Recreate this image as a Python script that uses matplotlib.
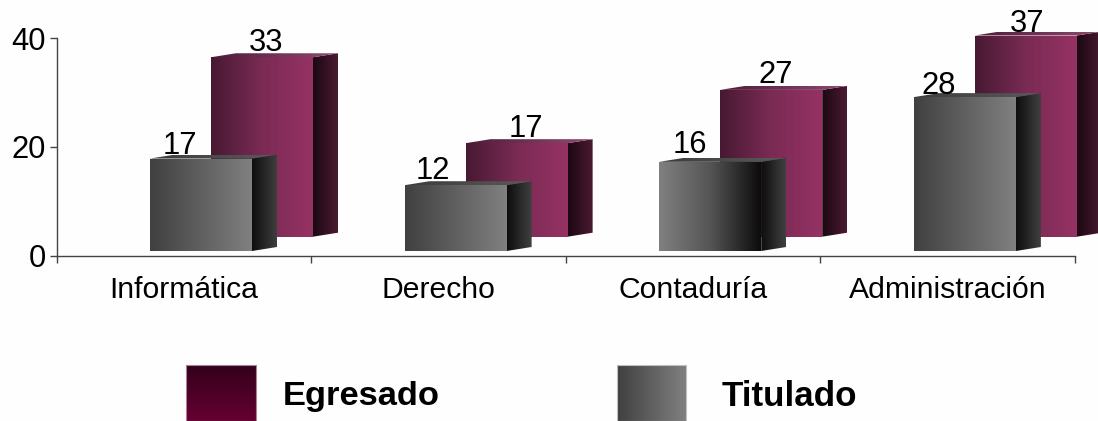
#!/usr/bin/env python3
import numpy as np
import matplotlib
matplotlib.use("Agg")
import matplotlib.pyplot as plt
from matplotlib.colors import LinearSegmentedColormap
from matplotlib.patches import Polygon

plt.rcParams["font.family"] = ["Liberation Sans", "DejaVu Sans"]

categories = ["Informática", "Derecho", "Contaduría", "Administración"]
egresado = [33, 17.2, 27, 37]
titulado = [17, 12.1, 16.4, 28.3]
y_ticks = [0, 20, 40]

# label nudges in pixels, from the left edge / top of each bar
egr_label_dx = [55, 60, 55, 52]
egr_label_dy = [6, 6, 7, 4]
tit_label_dx = [30, 28, 31, 25]
tit_label_dy = [5, 6, 9, 3]

W, H = 1098, 421
X0, X1 = 56.5, 1075
Y0, Y40 = 255.5, 38
PX = 4.0 / (X1 - X0)      # data units per pixel, x
PY = 40.0 / (Y0 - Y40)    # data units per pixel, y

BAR_W = 102 * PX
GRAY_LEFT, EGR_LEFT = 93.5 * PX, 154.5 * PX
GRAY_BASE, EGR_BASE = 4.5 * PY, 18.8 * PY
DX, DY = 25 * PX, 4 * PY

fig = plt.figure(figsize=(W / 100, H / 100), dpi=100, facecolor="#fefefe")
ax = fig.add_axes([X0 / W, 1 - Y0 / H, (X1 - X0) / W, (Y0 - Y40) / H])
ax.patch.set_alpha(0)


def gradient_poly(target, verts, colors, vertical=False, z=3):
    verts = np.array(verts)
    cmap = LinearSegmentedColormap.from_list("g", colors)
    grad = np.linspace(0, 1, 256)
    grad = grad.reshape(-1, 1) if vertical else grad.reshape(1, -1)
    ext = [verts[:, 0].min(), verts[:, 0].max(), verts[:, 1].min(), verts[:, 1].max()]
    im = target.imshow(grad, cmap=cmap, extent=ext, aspect="auto", origin="upper",
                       interpolation="bilinear", zorder=z)
    im.set_clip_box(fig.bbox)
    poly = Polygon(verts, closed=True, transform=target.transData)
    im.set_clip_path(poly)


def draw_bar(left, base, value, front, side, top, z):
    right = left + BAR_W
    high = base + value
    gradient_poly(ax, [(left, base), (right, base), (right, high), (left, high)], front, z=z)
    gradient_poly(ax, [(right, base), (right + DX, base + DY), (right + DX, high + DY), (right, high)],
                  side, z=z)
    gradient_poly(ax, [(left, high), (left + DX, high + DY), (right + DX, high + DY), (right, high)],
                  top, z=z)


gray_front = ["#404040", "#808080"]
gray_rev = ["#808080", "#555555", "#0c0c0c"]
gray_side = ["#0e0e0e", "#404040"]
gray_top = ["#3c3c3c", "#5a5a5a"]
egr_front = ["#471932", "#7a2b54", "#963264"]
egr_side = ["#1c0812", "#4b1a33"]
egr_top = ["#4f1c38", "#8f4a70"]

for i in range(len(categories)):
    draw_bar(i + EGR_LEFT, EGR_BASE, egresado[i], egr_front, egr_side, egr_top, 3)
    ax.text(i + EGR_LEFT + egr_label_dx[i] * PX, EGR_BASE + egresado[i] + egr_label_dy[i] * PY,
            f"{egresado[i]:.0f}", ha="center", va="baseline", fontsize=22.3, color="black", zorder=6)

for i in range(len(categories)):
    front = gray_rev if categories[i] == "Contaduría" else gray_front
    draw_bar(i + GRAY_LEFT, GRAY_BASE, titulado[i], front, gray_side, gray_top, 4)
    ax.text(i + GRAY_LEFT + tit_label_dx[i] * PX, GRAY_BASE + titulado[i] + tit_label_dy[i] * PY,
            f"{titulado[i]:.0f}", ha="center", va="baseline", fontsize=22.3, color="black", zorder=6)

ax.set_xlim(0, 4)
ax.set_ylim(0, 40)

for s in ["top", "right"]:
    ax.spines[s].set_visible(False)
for s in ["left", "bottom"]:
    ax.spines[s].set_color("#444444")
    ax.spines[s].set_linewidth(1.0)

ax.set_yticks(y_ticks)
ax.tick_params(axis="y", length=5, width=1, color="#444444", labelsize=22.3, pad=2.5)
ax.set_xticks(range(5))
ax.set_xticklabels([])
ax.tick_params(axis="x", which="major", length=5, width=1, color="#444444", direction="out")
ax.set_xticks(np.arange(len(categories)) + 0.5, minor=True)
ax.set_xticklabels(categories, minor=True, fontsize=21.7)
ax.tick_params(axis="x", which="minor", length=0, pad=15)

# legend, in its own full-figure axes so pixel positions can be used
lax = fig.add_axes([0, 0, 1, 1])
lax.set_xlim(0, W)
lax.set_ylim(H, 0)
lax.axis("off")
lax.patch.set_alpha(0)

gradient_poly(lax, [(186, 365), (256, 365), (256, 421), (186, 421)], ["#660033", "#33001a"], vertical=True)
gradient_poly(lax, [(617, 365), (686, 365), (686, 421), (617, 421)], gray_front)
lax.add_patch(Polygon([(186, 365), (256, 365), (256, 421), (186, 421)], closed=True, fill=False,
                      edgecolor="#b08098", linewidth=0.8, zorder=5))
lax.add_patch(Polygon([(617, 365), (686, 365), (686, 421), (617, 421)], closed=True, fill=False,
                      edgecolor="#c0c0c0", linewidth=0.8, zorder=5))
lax.set_xlim(0, W)
lax.set_ylim(H, 0)
lax.text(283, 396, "Egresado", fontsize=24.8, fontweight="bold", va="center", ha="left", color="black")
lax.text(722, 396, "Titulado", fontsize=25.2, fontweight="bold", va="center", ha="left", color="black")

fig.savefig("out.png", dpi=100, facecolor=fig.get_facecolor())
